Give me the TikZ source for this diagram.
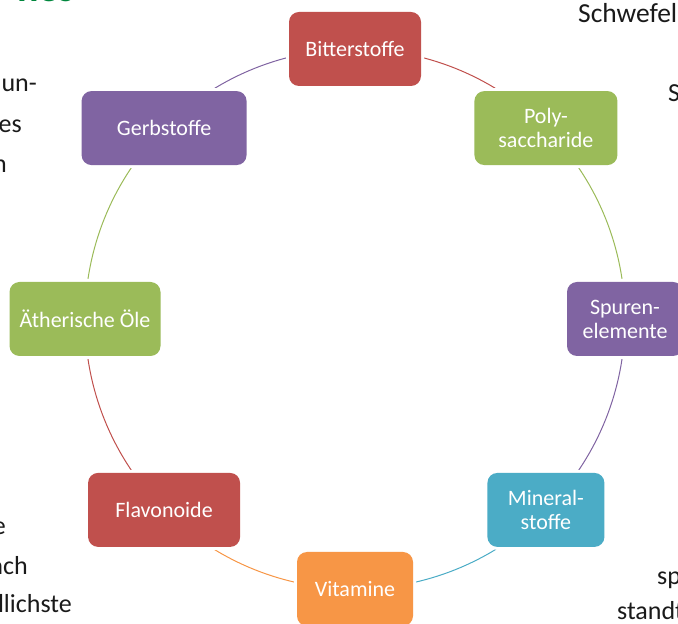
\documentclass[tikz,border=0pt]{standalone}
\usepackage{fontspec}
\setmainfont{Carlito}
\usetikzlibrary{calc}
\definecolor{cred}{HTML}{C0504D}
\definecolor{cgreen}{HTML}{9BBB59}
\definecolor{cpurple}{HTML}{8064A2}
\definecolor{cblue}{HTML}{4BACC6}
\definecolor{corange}{HTML}{F79646}
\definecolor{head}{HTML}{00863D}
\definecolor{bgtext}{HTML}{1A1A1A}
\pgfdeclarelayer{background}
\pgfsetlayers{background,main}
\begin{document}
\begin{tikzpicture}[x=1pt,y=1pt,
  box/.style={rounded corners=10pt, minimum height=74pt, inner sep=0pt,
    align=center, text=white, font=\fontsize{22}{24}\selectfont,
    preaction={draw=white, line width=6pt}},
  bg/.style={inner sep=0pt, text=bgtext, font=\fontsize{26}{30}\selectfont},
  conn/.style={line width=1pt}]
\useasboundingbox (0,0) rectangle (678,624);
\clip (0,0) rectangle (678,624);
\coordinate (C) at (355,305);
% background text fragments
\node[inner sep=0pt, text=head, font=\fontsize{40}{44}\selectfont\bfseries, anchor=base east] (hd) at (75,622) {nes};
\node[bg, anchor=base east] (t1) at (37,532) {un-};
\node[bg, anchor=base east] (t2) at (22,491) {es};
\node[bg, anchor=base east] (t3) at (7,451) {n};
\node[bg, anchor=base east] (t4) at (6,89) {e};
\node[bg, anchor=base east] (t5) at (28,49) {ach};
\node[bg, anchor=base east] (t6) at (72,11) {llichste};
\node[bg, anchor=base west, font=\fontsize{27.5}{30}\selectfont] (t7) at (578,601) {Schwefel};
\node[bg, anchor=base west] (t8) at (668,522) {S};
\node[bg, anchor=base west] (t9) at (657,39) {sp};
\node[bg, anchor=base west] (t10) at (617,4) {standt};
% cycle nodes
\node[box, fill=cred, minimum width=132pt] (bit) at ($(C)+(90:270)$) {Bitterstoffe};
\node[box, fill=cgreen, minimum width=143pt] (poly) at ($(C)+(45:270)$) {Poly-\\saccharide};
\node[box, fill=cpurple, minimum width=116pt] (spur) at ($(C)+(0:270)$) {Spuren-\\elemente};
\node[box, fill=cblue, minimum width=117pt] (min) at ($(C)+(-45:270)$) {Mineral-\\stoffe};
\node[box, fill=corange, minimum width=116pt] (vit) at ($(C)+(-90:270)$) {Vitamine};
\node[box, fill=cred, minimum width=152pt] (fla) at ($(C)+(-135:270)$) {Flavonoide};
\node[box, fill=cgreen, minimum width=151pt] (aeth) at ($(C)+(180:270)$) {Ätherische Öle};
\node[box, fill=cpurple, minimum width=165pt] (gerb) at ($(C)+(135:270)$) {Gerbstoffe};
% connectors
\begin{pgfonlayer}{background}
\draw[conn, cred] (bit.center) arc[start angle=90, end angle=45, radius=270pt];
\draw[conn, cgreen] (poly.center) arc[start angle=45, end angle=0, radius=270pt];
\draw[conn, cpurple] (spur.center) arc[start angle=0, end angle=-45, radius=270pt];
\draw[conn, cblue] (min.center) arc[start angle=-45, end angle=-90, radius=270pt];
\draw[conn, corange] (vit.center) arc[start angle=-90, end angle=-135, radius=270pt];
\draw[conn, cred] (fla.center) arc[start angle=-135, end angle=-180, radius=270pt];
\draw[conn, cgreen] (aeth.center) arc[start angle=180, end angle=135, radius=270pt];
\draw[conn, cpurple] (gerb.center) arc[start angle=135, end angle=90, radius=270pt];
\end{pgfonlayer}
\end{tikzpicture}
\end{document}
